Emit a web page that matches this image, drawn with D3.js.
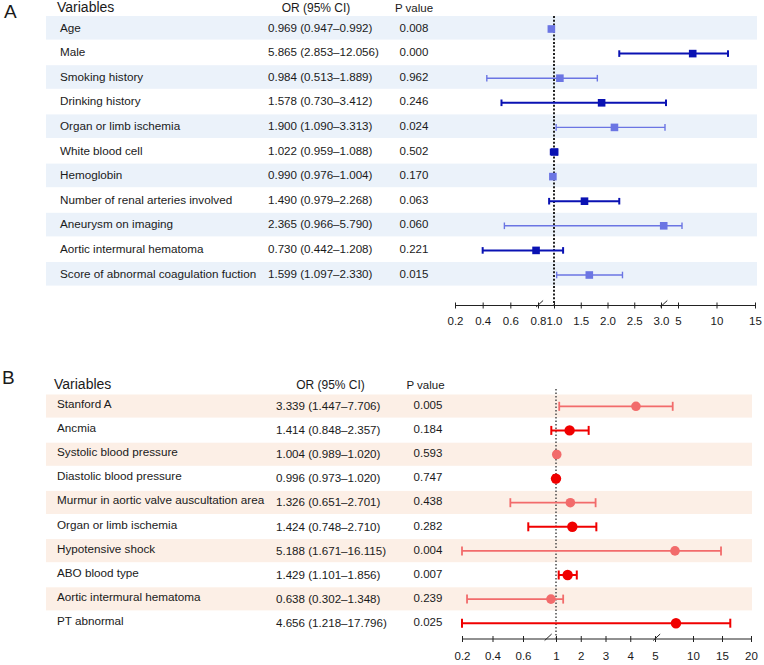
<!DOCTYPE html>
<html>
<head>
<meta charset="utf-8">
<script src="https://cdn.jsdelivr.net/npm/d3@7/dist/d3.min.js"></script>
<style>
  body { margin: 0; background: #fff; }
  text { font-family: "Liberation Sans", Arial, sans-serif; fill: #1a1a1a; }
</style>
</head>
<body>
<script>
// ---- panel A data ----
var varsA = ["Age", "Male", "Smoking history", "Drinking history", "Organ or limb ischemia",
  "White blood cell", "Hemoglobin", "Number of renal arteries involved", "Aneurysm on imaging",
  "Aortic intermural hematoma", "Score of abnormal coagulation fuction"];
var orTextA = ["0.969 (0.947\u20130.992)", "5.865 (2.853\u201312.056)", "0.984 (0.513\u20131.889)",
  "1.578 (0.730\u20133.412)", "1.900 (1.090\u20133.313)", "1.022 (0.959\u20131.088)",
  "0.990 (0.976\u20131.004)", "1.490 (0.979\u20132.268)", "2.365 (0.966\u20135.790)",
  "0.730 (0.442\u20131.208)", "1.599 (1.097\u20132.330)"];
var pTextA = ["0.008", "0.000", "0.962", "0.246", "0.024", "0.502", "0.170", "0.063", "0.060", "0.221", "0.015"];
// values as plotted against the broken axis
var estA = [0.967, 6.91, 1.11, 1.89, 2.13, 1.01, 0.986, 1.57, 3.32, 0.786, 1.66];
var loA  = [0.947, 2.22, 0.43, 0.536, 1.04, 0.96, 0.976, 0.939, 0.557, 0.40, 1.05];
var hiA  = [0.992, 11.49, 1.81, 3.59, 3.47, 1.06, 1.004, 2.22, 5.52, 1.17, 2.28];
var knotsA = [0.2, 0.8, 1.0, 3.0, 5, 15];
var ticksA = [0.2, 0.4, 0.6, 0.8, 1.0, 1.5, 2.0, 2.5, 3.0, 5, 10, 15];
var tickLabelsA = ["0.2", "0.4", "0.6", "0.8", "1.0", "1.5", "2.0", "2.5", "3.0", "5", "10", "15"];
var breaksA = [0.82, 3.33];

// ---- panel B data ----
var varsB = ["Stanford A", "Ancmia", "Systolic blood pressure", "Diastolic blood pressure",
  "Murmur in aortic valve auscultation area", "Organ or limb ischemia", "Hypotensive shock",
  "ABO blood type", "Aortic intermural hematoma", "PT abnormal"];
var orTextB = ["3.339 (1.447\u20137.706)", "1.414 (0.848\u20132.357)", "1.004 (0.989\u20131.020)",
  "0.996 (0.973\u20131.020)", "1.326 (0.651\u20132.701)", "1.424 (0.748\u20132.710)",
  "5.188 (1.671\u201316.115)", "1.429 (1.101\u20131.856)", "0.638 (0.302\u20131.348)",
  "4.656 (1.218\u201317.796)"];
var pTextB = ["0.005", "0.184", "0.593", "0.747", "0.438", "0.282", "0.004", "0.007", "0.239", "0.025"];
var estB = [4.23, 1.55, 1.03, 1.0, 1.58, 1.66, 7.63, 1.47, 0.939, 7.76];
var loB  = [1.13, 0.943, 0.989, 0.973, 0.517, 0.664, 0.2, 1.11, 0.233, 0.2];
var hiB  = [7.33, 2.32, 1.02, 1.02, 2.60, 2.63, 14.83, 1.84, 1.29, 16.43];
var knotsB = [0.2, 0.6, 1, 5, 10, 20];
var ticksB = [0.2, 0.4, 0.6, 1, 2, 3, 4, 5, 10, 15, 20];
var tickLabelsB = ["0.2", "0.4", "0.6", "1", "2", "3", "4", "5", "10", "15", "20"];
var breaksB = [0.905, 5.22];

var svg = d3.select("body").append("svg")
  .attr("width", 764)
  .attr("height", 665);

function forest(cfg) {
  var g = svg.append("g");
  var x = d3.scaleLinear().domain(cfg.knots).range(cfg.xr);
  var y = d3.scaleBand().domain(d3.range(cfg.vars.length))
    .range([cfg.top, cfg.top + cfg.step * cfg.vars.length]);

  g.append("text").attr("x", cfg.letterX).attr("y", cfg.letterY)
    .attr("font-size", 19).text(cfg.letter);

  // headers
  g.append("text").attr("x", cfg.nameX - 3).attr("y", cfg.headY)
    .attr("font-size", 14).text("Variables");
  g.append("text").attr("x", cfg.orHeadX).attr("y", cfg.headY)
    .attr("font-size", 12).attr("text-anchor", "middle").text("OR (95% CI)");
  g.append("text").attr("x", cfg.pHeadX).attr("y", cfg.headY)
    .attr("font-size", 11.5).attr("text-anchor", "middle").text("P value");

  // row bands
  g.selectAll("rect.band").data(d3.range(cfg.vars.length).filter(function(i) { return i % 2 === 0; }))
    .enter().append("rect")
    .attr("x", 46).attr("width", cfg.bandRight - 46)
    .attr("y", function(i) { return y(i); })
    .attr("height", cfg.step - 1)
    .attr("fill", cfg.band);

  // table text
  var rows = g.selectAll("g.row").data(cfg.vars).enter().append("g")
    .attr("transform", function(d, i) { return "translate(0," + y(i) + ")"; });
  rows.append("text").attr("x", cfg.nameX).attr("y", cfg.nameDy)
    .attr("font-size", 11.7).text(function(d) { return d; });
  rows.append("text").attr("x", cfg.orX).attr("y", cfg.orDy)
    .attr("font-size", 11.6).text(function(d, i) { return cfg.orText[i]; });
  rows.append("text").attr("x", cfg.pX).attr("y", cfg.pDy)
    .attr("font-size", 11.5).attr("text-anchor", "middle").text(function(d, i) { return cfg.pText[i]; });

  // reference line at OR = 1
  g.append("line")
    .attr("x1", x(1)).attr("x2", x(1))
    .attr("y1", cfg.refTop).attr("y2", cfg.axisY)
    .attr("stroke", cfg.refColor).attr("stroke-width", cfg.refW)
    .attr("stroke-dasharray", cfg.refDash);

  // error bars and markers
  var marks = g.selectAll("g.mark").data(cfg.est).enter().append("g")
    .attr("transform", function(d, i) { return "translate(0," + (y(i) + cfg.markDy) + ")"; });
  marks.each(function(d, i) {
    var m = d3.select(this);
    var col = i % 2 === 0 ? cfg.light : cfg.dark;
    var w = i % 2 === 0 ? cfg.lwLight : cfg.lwDark;
    m.append("line").attr("x1", x(cfg.lo[i])).attr("x2", x(cfg.hi[i]))
      .attr("stroke", col).attr("stroke-width", w);
    [cfg.lo[i], cfg.hi[i]].forEach(function(v) {
      m.append("line").attr("x1", x(v)).attr("x2", x(v))
        .attr("y1", -cfg.cap).attr("y2", cfg.cap)
        .attr("stroke", col).attr("stroke-width", w);
    });
    if (cfg.shape === "square") {
      m.append("rect").attr("x", x(d) - 3.8).attr("y", -3.8)
        .attr("width", 7.6).attr("height", 7.6).attr("fill", col);
    } else {
      m.append("circle").attr("cx", x(d)).attr("r", i % 2 === 0 ? 4.8 : 5.2).attr("fill", col);
    }
  });

  // axis
  var axis = d3.axisBottom(x).tickValues(cfg.ticks)
    .tickFormat(function(d, i) { return cfg.tickLabels[i]; })
    .tickSizeOuter(0).tickSizeInner(4).tickPadding(cfg.tickPad);
  var ag = g.append("g").attr("transform", "translate(0," + cfg.axisY + ")").call(axis);
  ag.select(".domain").attr("stroke", "#222");
  ag.selectAll(".tick line").attr("y1", -2.5).attr("y2", 3.5).attr("stroke", "#222");
  ag.selectAll(".tick text").attr("font-size", 11.5)
    .attr("font-family", "Liberation Sans, Arial, sans-serif").attr("fill", "#1a1a1a");

  g.selectAll("line.brk").data(cfg.breaks).enter().append("line")
    .attr("x1", function(d) { return x(d) - 3.5; })
    .attr("x2", function(d) { return x(d) + 3.5; })
    .attr("y1", cfg.axisY + 2).attr("y2", cfg.axisY - 4.5)
    .attr("stroke", "#222").attr("stroke-width", 1);
}

forest({
  letter: "A", letterX: 4, letterY: 18,
  vars: varsA, orText: orTextA, pText: pTextA,
  est: estA, lo: loA, hi: hiA,
  knots: knotsA, xr: [455, 538, 554, 661, 678, 755],
  ticks: ticksA, tickLabels: tickLabelsA, breaks: breaksA,
  top: 16, step: 24.6, headY: 12,
  nameX: 60, orX: 268, pX: 414, orHeadX: 316, pHeadX: 414,
  nameDy: 15.5, orDy: 15.5, pDy: 15.5, markDy: 13,
  bandRight: 757, band: "#ebf2fa",
  light: "#6b75e3", dark: "#0a12b3", lwLight: 1.4, lwDark: 2, cap: 3.3,
  shape: "square",
  refTop: 16, refColor: "#222", refW: 2, refDash: "2,1.7",
  axisY: 305, tickPad: 8
});

forest({
  letter: "B", letterX: 2, letterY: 384,
  vars: varsB, orText: orTextB, pText: pTextB,
  est: estB, lo: loB, hi: hiB,
  knots: knotsB, xr: [462, 523, 556, 655, 693, 751],
  ticks: ticksB, tickLabels: tickLabelsB, breaks: breaksB,
  top: 394.5, step: 24.1, headY: 389,
  nameX: 57, orX: 276, pX: 428, orHeadX: 330.5, pHeadX: 425.5,
  nameDy: 13.5, orDy: 15.5, pDy: 14.5, markDy: 11.8,
  bandRight: 752, band: "#fcefe6",
  light: "#f26b6b", dark: "#f00000", lwLight: 1.8, lwDark: 2, cap: 4.5,
  shape: "circle",
  refTop: 389, refColor: "#555", refW: 1.6, refDash: "1.6,1.9",
  axisY: 638.5, tickPad: 9.5
});
</script>
</body>
</html>
